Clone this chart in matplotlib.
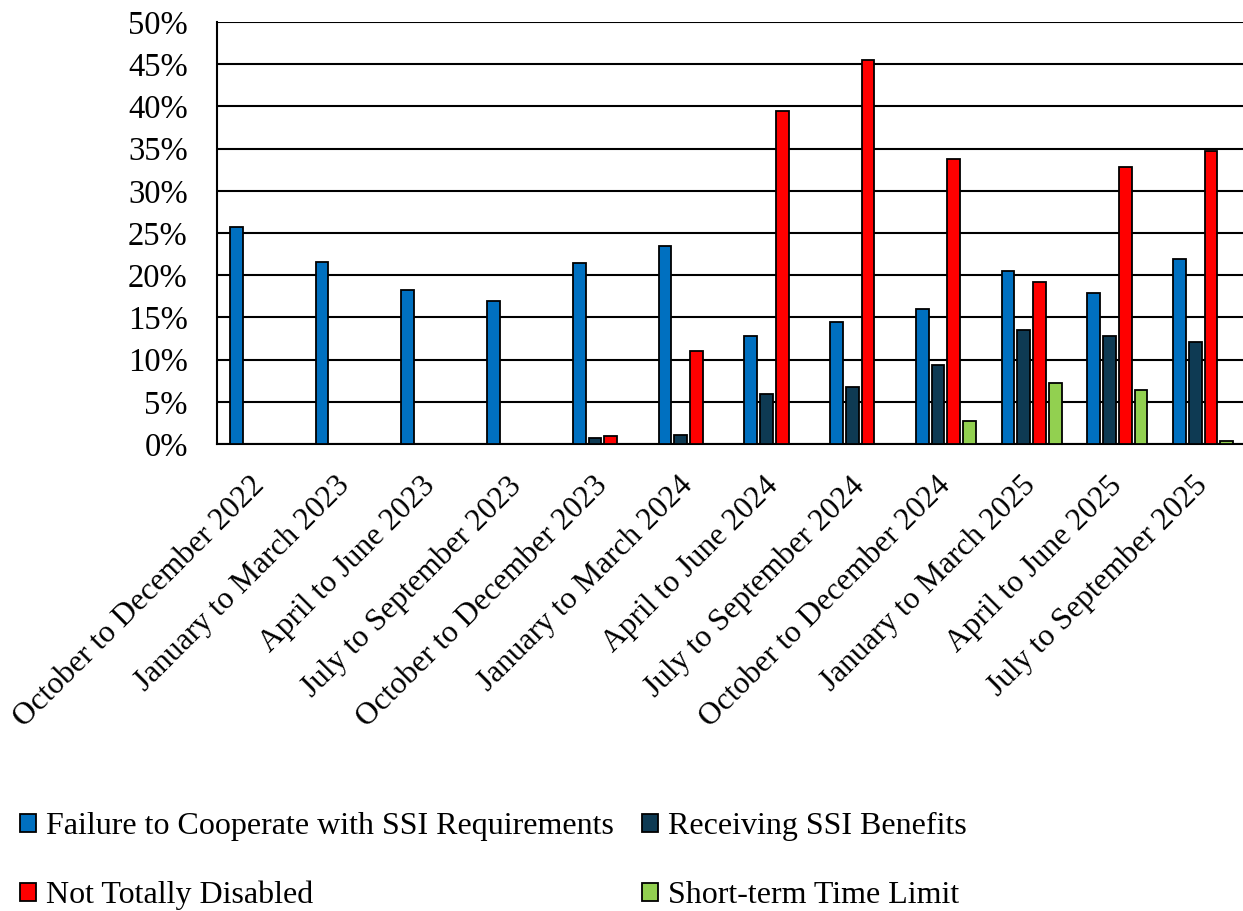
import numpy as np
import matplotlib.pyplot as plt
from matplotlib.ticker import PercentFormatter

plt.rcParams['font.family'] = ['Liberation Serif', 'DejaVu Serif']

quarters = ["October to December 2022", "January to March 2023", "April to June 2023",
            "July to September 2023", "October to December 2023", "January to March 2024",
            "April to June 2024", "July to September 2024", "October to December 2024",
            "January to March 2025", "April to June 2025", "July to September 2025"]

# share of closures by reason, in percent
failure_to_cooperate = [25.7, 21.6, 18.2, 16.9, 21.5, 23.5, 12.8, 14.5, 16.0, 20.5, 17.9, 21.9]
receiving_ssi = [0, 0, 0, 0, 0.7, 1.1, 5.9, 6.75, 9.4, 13.55, 12.8, 12.05]
not_disabled = [0, 0, 0, 0, 0.9, 11.0, 39.5, 45.5, 33.8, 19.2, 32.8, 34.7]
time_limit = [0, 0, 0, 0, 0, 0, 0, 0, 2.7, 7.2, 6.4, 0.3]

series = [
    ("Failure to Cooperate with SSI Requirements", failure_to_cooperate, "#0070C0"),
    ("Receiving SSI Benefits", receiving_ssi, "#0E3A53"),
    ("Not Totally Disabled", not_disabled, "#FF0000"),
    ("Short-term Time Limit", time_limit, "#92D050"),
]

fig = plt.figure(figsize=(12.43, 9.11), dpi=100)
ax = fig.add_axes([217 / 1243, 1 - 444 / 911, 1029 / 1243, 422 / 911])

x = np.arange(len(quarters))
step = 0.183
width = 0.148
bars = []
for i, (name, vals, color) in enumerate(series):
    b = ax.bar(x + (i - 1.5) * step, vals, width, color=color, edgecolor="black",
               linewidth=1.3, label=name, zorder=3)
    bars.append(b)

ax.set_xlim(-0.5, len(quarters) - 0.5)
ax.set_ylim(0, 50)
ax.set_yticks(np.arange(0, 51, 5))
ax.yaxis.set_major_formatter(PercentFormatter(decimals=0))
ax.grid(axis="y", color="black", linewidth=1.5, zorder=0)
ax.set_axisbelow(True)

for side in ["top", "right"]:
    ax.spines[side].set_visible(False)
ax.spines["left"].set_linewidth(1.5)
ax.spines["bottom"].set_linewidth(1.5)

ax.tick_params(axis="both", length=0)
ax.tick_params(axis="y", pad=21, labelsize=23.5)
ax.tick_params(axis="x", pad=27, labelsize=22.6)
ax.set_xticks(x)
ax.set_xticklabels(quarters, rotation=45, ha="right", va="center", rotation_mode="anchor")

order = [0, 2, 1, 3]
fig.legend([bars[i] for i in order], [series[i][0] for i in order],
           loc="lower left", bbox_to_anchor=(-0.007, -0.031), ncol=2, frameon=False,
           fontsize=23, handlelength=0.5, handleheight=0.5, handletextpad=0.3,
           labelspacing=1.25, columnspacing=0.9)

fig.savefig("out.png", dpi=100)
